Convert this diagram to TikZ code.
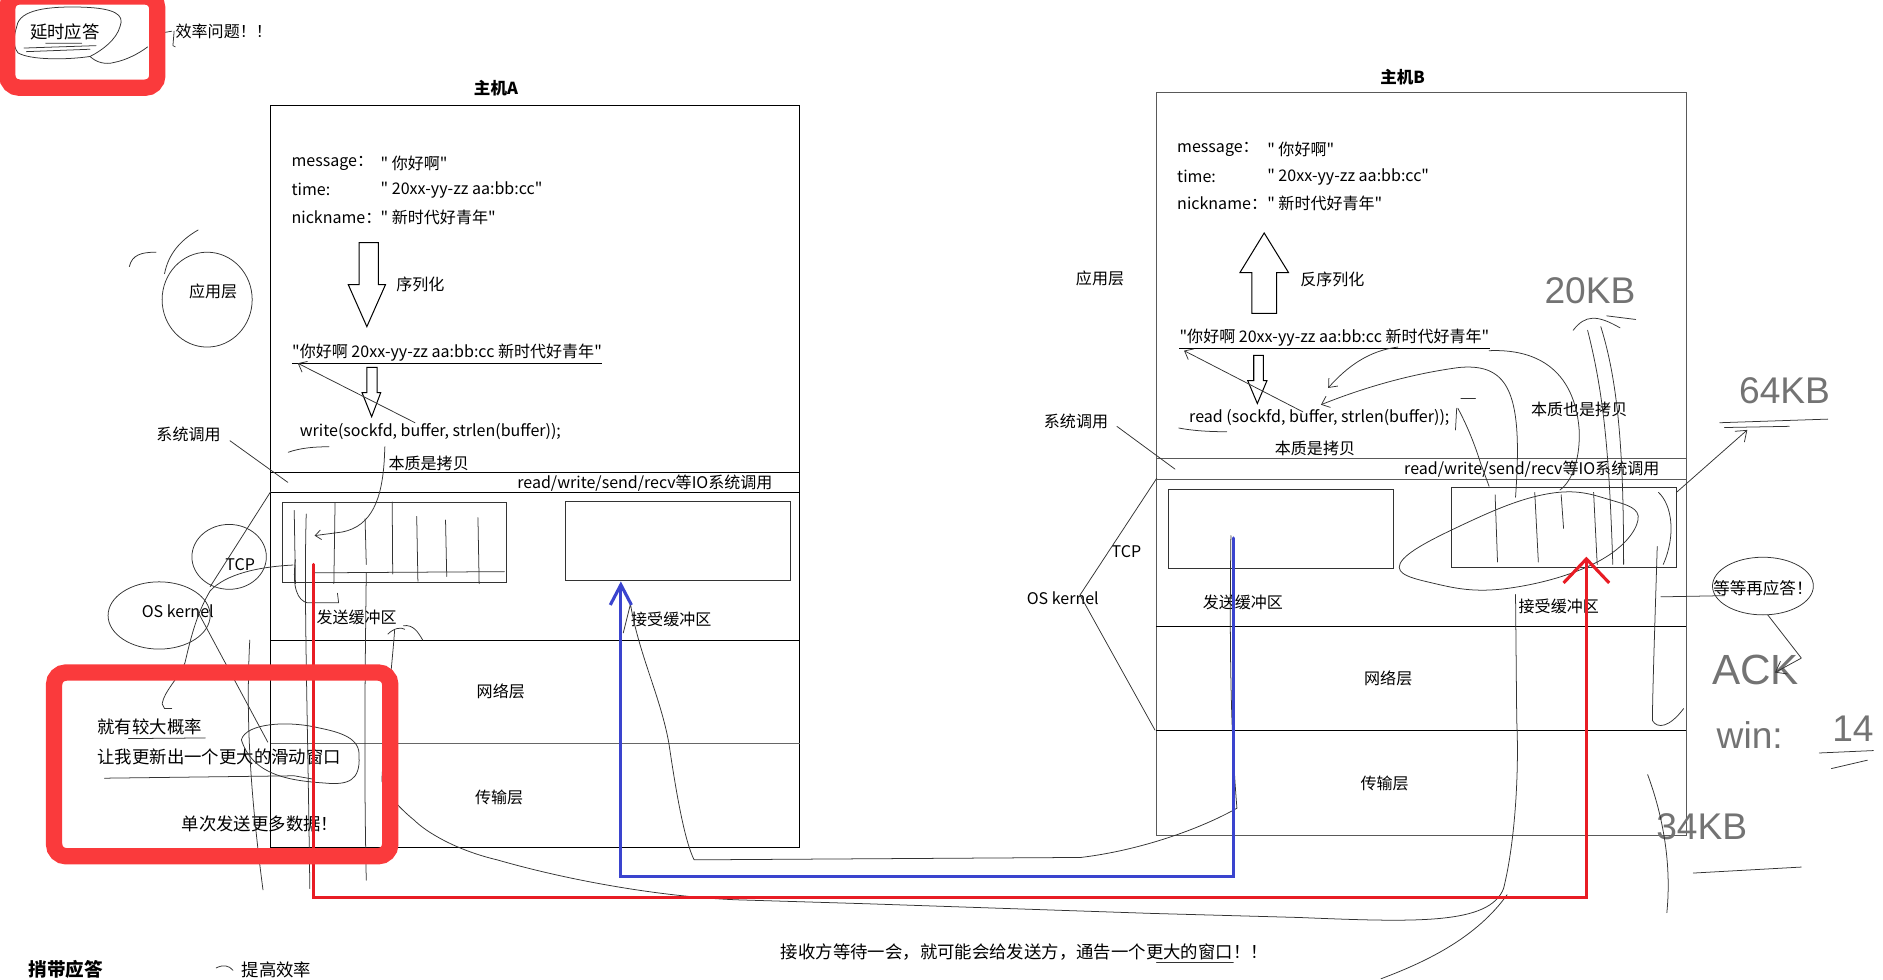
\documentclass[tikz,border=0pt]{standalone}
\usepackage{fontspec}
\setmainfont{Noto Sans CJK SC}[Ligatures=TeXOff]
\newfontfamily\handfont{Liberation Sans}
\usetikzlibrary{arrows.meta, positioning}
\definecolor{markred}{RGB}{250, 58, 60}
\definecolor{pathred}{RGB}{232, 28, 36}
\definecolor{pathblue}{RGB}{58, 68, 206}

\begin{document}
\begin{tikzpicture}[x=0.25mm, y=-0.25mm,
    lbl/.style={inner sep=0pt, font=\fontsize{9.5}{11}\selectfont},
    note/.style={inner sep=0pt, font=\fontsize{10.3}{12}\selectfont},
    title/.style={inner sep=0pt, font=\fontsize{9.8}{12}\selectfont\bfseries},
    scrawl/.style={inner sep=0pt, black!55, font=\handfont\fontsize{22}{24}\selectfont},
    hand/.style={line width=0.45pt, black!80, line cap=round, line join=round},
    frame/.style={line width=0.6pt},
    buf/.style={draw, black!80, line width=0.6pt, minimum width=46.75mm, minimum height=16.6mm, inner sep=0pt},
    redmark/.style={draw=markred, line width=3.4mm, rounded corners=2.5mm},
    route/.style={line width=0.65mm, line cap=round}]
    \useasboundingbox (0,0) rectangle (1568,816);

    % host A
    \draw[frame] (225.5,88) rectangle (666,706);
    \draw[frame] (225.5,393.5) -- (666,393.5);
    \draw[frame] (225.5,410) -- (666,410);
    \draw[frame] (225.5,533) -- (666,533);
    \draw[frame, black!60] (225.5,619.5) -- (666,619.5);
    \node[buf] (sendA) at (328.5,452) {};
    \node[buf] (recvA) at (564.5,450.5) {};

    % host B
    \draw[frame, black!65] (963,77) rectangle (1404,696);
    \draw[frame, black!65] (963,382) -- (1404,382);
    \draw[frame, black!65] (963,399) -- (1404,399);
    \draw[frame] (963,522) -- (1404,522);
    \draw[frame] (963,608) -- (1404,608);
    \node[buf] (sendB) at (1066.5,440.5) {};
    \node[buf] (recvB) at (1302.5,439.5) {};

    % texts of host A
    \node[title] (titleA) at (413,73.5) {主机A};
    \node[lbl, anchor=west] (msgA) at (242.5,136) {message：};
    \node[lbl, anchor=west] (msgAv) at (316.7,136) {" 你好啊"};
    \node[lbl, anchor=west] (timeA) at (242.5,158) {time:};
    \node[lbl, anchor=west] (timeAv) at (316.7,158) {" 20xx-yy-zz aa:bb:cc"};
    \node[lbl, anchor=west] (nickA) at (242.5,180.7) {nickname：};
    \node[lbl, anchor=west] (nickAv) at (316.7,180.7) {" 新时代好青年"};
    \node[lbl] (serlabA) at (350,236.5) {序列化};
    \node[lbl, anchor=west] (serA) at (243,294) {"你好啊 20xx-yy-zz aa:bb:cc 新时代好青年"};
    \node[lbl, anchor=west] (callA) at (249.4,359) {write(sockfd, buffer, strlen(buffer));};
    \node[lbl] (copyA) at (357,385.7) {本质是拷贝};
    \node[lbl, anchor=west] (ioA) at (430.5,402) {read/write/send/recv等IO系统调用};
    \node[lbl] (sendAlab) at (297,514) {发送缓冲区};
    \node[lbl] (recvAlab) at (559,516) {接受缓冲区};
    \node[lbl] (netA) at (417,576) {网络层};
    \node[lbl] (transA) at (415.6,664) {传输层};
    \node[lbl] (appA) at (177.5,242.6) {应用层};
    \node[lbl] (sysA) at (157,362) {系统调用};
    \node[lbl] (tcpA) at (200,470.5) {TCP};
    \node[lbl] (osA) at (148,509) {OS kernel};
    \draw[frame] ([yshift=-0.4mm]serA.south west) -- ([yshift=-0.4mm]serA.south east);

    % texts of host B
    \node[title] (titleB) at (1168,64) {主机B};
    \node[lbl, anchor=west] (msgB) at (980,124) {message：};
    \node[lbl, anchor=west] (msgBv) at (1055,124) {" 你好啊"};
    \node[lbl, anchor=west] (timeB) at (980,147) {time:};
    \node[lbl, anchor=west] (timeBv) at (1055,147) {" 20xx-yy-zz aa:bb:cc"};
    \node[lbl, anchor=west] (nickB) at (980,169) {nickname：};
    \node[lbl, anchor=west] (nickBv) at (1055,169) {" 新时代好青年"};
    \node[lbl] (serlabB) at (1109.5,233) {反序列化};
    \node[lbl, anchor=west] (serB) at (982,281.5) {"你好啊 20xx-yy-zz aa:bb:cc 新时代好青年"};
    \node[lbl, anchor=west] (callB) at (990,348) {read (sockfd, buffer, strlen(buffer));};
    \node[lbl] (copyB) at (1095,373) {本质是拷贝};
    \node[lbl] (copyB2) at (1315,340.7) {本质也是拷贝};
    \node[lbl, anchor=west] (ioB) at (1169,390.5) {read/write/send/recv等IO系统调用};
    \node[lbl] (sendBlab) at (1035,502) {发送缓冲区};
    \node[lbl] (recvBlab) at (1298,505) {接受缓冲区};
    \node[lbl] (netB) at (1156,565) {网络层};
    \node[lbl] (transB) at (1153,652) {传输层};
    \node[lbl] (appB) at (916,231.7) {应用层};
    \node[lbl] (sysB) at (896,351) {系统调用};
    \node[lbl] (tcpB) at (938,459.4) {TCP};
    \node[lbl] (osB) at (885,498) {OS kernel};
    \draw[frame] ([yshift=-0.4mm]serB.south west) -- ([yshift=-0.4mm]serB.south east);

    % hollow arrows
    \draw[frame] (299,202) -- (315,202) -- (315,237) -- (321,237) -- (305.5,272) -- (290,237) -- (299,237) -- cycle;
    \draw[frame] (305.5,306) -- (314,306) -- (314,327) -- (317,327) -- (309.5,347) -- (301.5,327) -- (305.5,327) -- cycle;
    \draw[frame] (1042.5,261) -- (1063,261) -- (1063,227) -- (1073,227) -- (1052.7,194) -- (1032.5,227) -- (1042.5,227) -- cycle;
    \draw[frame] (1044,296) -- (1052,296) -- (1052,317) -- (1055,317) -- (1047,336) -- (1039,317) -- (1044,317) -- cycle;

    % other texts
    \node[note] (delay) at (54,26.4) {延时应答};
    \node[lbl, anchor=west] (effq) at (146,26.4) {效率问题！！};
    \node[note, anchor=west] (prob) at (81,605) {就有较大概率};
    \node[note, anchor=west] (upd) at (81,630) {让我更新出一个更大的滑动窗口};
    \node[note, anchor=west] (more) at (151,686) {单次发送更多数据！};
    \node[note] (wait) at (853,793) {接收方等待一会，就可能会给发送方，通告一个更大的窗口！！};
    \node[lbl, font=\fontsize{9.8}{12}\selectfont] (later) at (1468,490) {等等再应答！};
    \node[inner sep=0pt, anchor=south west, font=\fontsize{11}{13}\selectfont\bfseries] (piggy) at (23.6,815) {捎带应答};
    \node[note, anchor=south west] (raise) at (201,815) {提高效率};
    \node[scrawl] (kb20) at (1324,242) {20KB};
    \node[scrawl] (kb64) at (1486,325) {64KB};
    \node[scrawl, font=\handfont\fontsize{25}{27}\selectfont] (ack) at (1462,558) {ACK};
    \node[scrawl] (win) at (1457,612) {win:};
    \node[scrawl] (wnum) at (1543,607) {14};
    \node[scrawl] (kb34) at (1417,688) {34KB};

    % scribbles, left side
    \draw[hand] (14,22) .. controls (16,8) and (40,5) .. (70,6) .. controls (95,7) and (104,12) .. (100,22) .. controls (97,33) and (85,42) .. (75,47) .. controls (55,50) and (25,50) .. (15,44) .. controls (10,38) and (12,28) .. (14,22);
    \draw[hand] (75,47) .. controls (80,52) and (88,54) .. (95,52) .. controls (105,50) and (115,45) .. (123,39);
    \draw[hand] (38,36) -- (68,36) (20,40) -- (80,38) (22,43) -- (75,41);
    \draw[hand] (137,27) -- (143,26) (145,26) -- (144,38) -- (146,39);
    \draw[hand] (172.5,249.5) ellipse [x radius=37.5, y radius=39.5];
    \draw[hand] (107.7,222) .. controls (110,212) and (118,210) .. (130,210);
    \draw[hand] (165,191.5) .. controls (150,200) and (140,212) .. (137,228);
    \draw[hand] (191.5,367) -- (239.6,401.6);
    \draw[hand] (190.8,463.7) ellipse [x radius=31, y radius=27];
    \draw[hand] (132.5,512.5) ellipse [x radius=42.5, y radius=28];
    \draw[hand] (225.4,409.4) -- (175,488.5);
    \draw[hand] (244,470.5) .. controls (215,472) and (188,478) .. (175,492) .. controls (163,512) and (158,535) .. (154,552) .. controls (148,566) and (137,575) .. (135,586) -- (137,590) -- (143,590);
    \draw[hand] (164,508) -- (223,618);
    \draw[hand] (208,533) .. controls (205,590) and (207,650) .. (219,741);
    \draw[hand] (107,615) -- (171,614.5);
    \draw[hand] (87,648) -- (245,646) -- (262,649);
    \draw[hand] (201,616) .. controls (205,602) and (240,600) .. (265,606) .. controls (285,610) and (300,615) .. (299,630) .. controls (300,650) and (290,654) .. (270,652) .. controls (240,650) and (210,645) .. (201,616);
    \draw[hand] (180,806) .. controls (186,803) and (191,804) .. (194,808);

    % scribbles, host A
    \draw[hand, -{Straight Barb[length=1.5mm, width=2.5mm]}] (345.6,352) -- (248,302.5);
    \draw[hand] (240,376.6) .. controls (250,373) and (262,372) .. (274,372);
    \draw[hand, -{Straight Barb[length=1.2mm, width=2mm]}] (320.5,372) -- (320,383) .. controls (318,415) and (310,438) .. (285,443) -- (262,446);
    \draw[hand] (245,425) -- (246,486) (279,419) -- (278,486) (304,432) -- (305,470) (326.6,418) -- (327,478) (347,430) -- (348,484) (371,433) -- (372,480) (398,431) -- (399,486);
    \draw[hand] (261.5,477) -- (420,476);
    \draw[hand] (246,466) .. controls (243,490) and (248,500) .. (256,502) -- (282,502) -- (281,494);
    \draw[hand] (323,528) .. controls (328,523) and (334,522) .. (337,524);
    \draw[hand] (336,521) .. controls (344,520) and (348,526) .. (352,533);
    \draw[hand] (305,477) .. controls (304,560) and (303,640) .. (305,733);
    \draw[hand] (255,428) .. controls (253,500) and (256,580) .. (258,740);
    \draw[hand] (328.6,525) .. controls (326,560) and (320,610) .. (318,650) .. controls (320,660) and (335,675) .. (345,683) .. controls (355,693) and (380,708) .. (414,716) .. controls (480,735) and (560,748) .. (621,749.5) -- (723,752.6) -- (959,760.6) -- (1082,764) .. controls (1180,768) and (1240,770) .. (1252,740) .. controls (1262,700) and (1265,640) .. (1263,600) -- (1262,495);
    \draw[hand] (519,527) -- (525,503) .. controls (532,545) and (550,580) .. (557,619) .. controls (563,660) and (570,700) .. (578,716) -- (900,714) .. controls (950,708) and (1000,690) .. (1030,673) .. controls (1024,600) and (1024,520) .. (1025,446);

    % scribbles, host B
    \draw[hand] (930,355) -- (978.4,390.6);
    \draw[hand] (963.2,398.3) -- (899.3,495.5) -- (961.8,608);
    \draw[hand, -{Straight Barb[length=1.5mm, width=2.5mm]}] (1085,343) -- (986,292);
    \draw[hand] (981.6,356.4) .. controls (995,359) and (1010,359.5) .. (1021.6,359.5);
    \draw[hand] (1240,292) .. controls (1290,290) and (1312,318) .. (1315,358) .. controls (1316,380) and (1310,400) .. (1299,408);
    \draw[hand, -{Straight Barb[length=1.5mm, width=2.5mm]}] (1262,414) .. controls (1268,330) and (1258,302) .. (1215,306) .. controls (1170,312) and (1130,325) .. (1100,337);
    \draw[hand, -{Straight Barb[length=1.5mm, width=2.5mm]}] (1164,289) .. controls (1140,292) and (1122,305) .. (1106,323);
    \draw[hand] (1213,340) -- (1212,358);
    \draw[hand] (1214,340) .. controls (1222,355) and (1228,370) .. (1233,386) -- (1240,405);
    \draw[hand] (1216.5,331.5) -- (1228.7,331.5);
    \draw[hand] (1310,275) .. controls (1320,262) and (1330,262) .. (1349,273);
    \draw[hand] (1322,275) .. controls (1336,330) and (1340,380) .. (1343,470);
    \draw[hand] (1333,272) .. controls (1348,320) and (1352,380) .. (1352,470);
    \draw[hand] (1338,263) -- (1362,266);
    \draw[hand] plot[smooth cycle, tension=0.7] coordinates {(1166,469) (1220,436) (1290,411) (1340,416) (1364,433) (1330,468) (1255,490) (1195,486)};
    \draw[hand] (1245,412) -- (1247,468) (1278,410) -- (1281,468) (1300,412) -- (1302,440) (1327,410) -- (1330,470);
    \draw[hand] (1381,410) .. controls (1392,420) and (1396,445) .. (1385,470);
    \draw[hand] (1380,455) .. controls (1378,520) and (1376,580) .. (1376,600) .. controls (1380,607) and (1390,606) .. (1402,590);
    \draw[hand] (1372,645) .. controls (1385,680) and (1392,720) .. (1388,760);
    \draw[hand] (1255,745) .. controls (1230,780) and (1190,800) .. (1150,815);
    \draw[hand, -{Straight Barb[length=2mm, width=3mm]}] (1396,410) -- (1455,358);
    \draw[hand] (1432,352) -- (1522,349) (1436,356) -- (1490,355);
    \draw[hand] (1383,497) -- (1436,496);
    \draw[hand] (1468,488) ellipse [x radius=42, y radius=24];
    \draw[hand, -{Straight Barb[length=2mm, width=3mm]}] (1472,512) -- (1500,548) -- (1478,560);
    \draw[hand] (1515,627) -- (1560,625) (1525,640) -- (1555,633);
    \draw[hand] (1410,727) -- (1500,722);
    \draw[hand] (963,801) -- (1027,801);

    % copy paths
    \coordinate (bstart) at (1027,448);
    \coordinate (bturn) at (517,730);
    \draw[route, pathblue, -{Straight Barb[length=4.2mm, width=4.4mm]}] (bstart) |- (bturn) -- (bturn |- recvA.south);
    \coordinate (rstart) at (261,470);
    \coordinate (rturn) at (1321,747);
    \draw[route, pathred, -{Straight Barb[length=5mm, width=9.5mm]}] (rstart) |- (rturn) -- ([yshift=2.4mm]rturn |- recvB.south);

    % red marks
    \draw[redmark] (6,-3) rectangle (131,73);
    \draw[redmark] (45,560) rectangle (325,713);
\end{tikzpicture}
\end{document}
